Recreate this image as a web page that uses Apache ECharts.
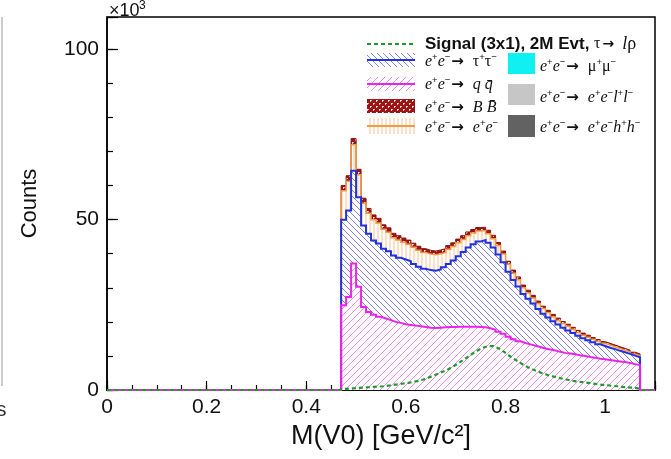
<!DOCTYPE html>
<html><head><meta charset="utf-8">
<script src="https://cdn.jsdelivr.net/npm/echarts@6/dist/echarts.min.js"></script>
<style>html,body{margin:0;padding:0;background:#fff;}#c{width:671px;height:459px;}</style>
</head><body><div id="c"></div>
<script>
// ---- histogram binning (x range of the frame, bin width, first filled bin) ----
const histMin = 0, histMax = 1.1, binWidth = 0.01, firstFilledEdge = 0.47;
// ---- stacked background components, 60 bins from 0.47 to 1.07 (x10^3 counts) ----
const qq = [24.9,27.3,37.1,30.3,24.4,22.9,22.1,21.5,21.0,20.5, 20.0,19.7,19.3,19.1,18.9,18.7,18.5,18.3,18.2,18.3,
            18.4,18.5,18.5,18.6,18.6,18.6,18.6,18.5,18.4,18.1, 17.7,17.1,16.5,15.6,14.9,14.3,13.8,13.4,13.0,12.6,
            12.2,11.9,11.6,11.2,10.9,10.7,10.5,10.2,10.0,9.7, 9.5,9.2,9.0,8.8,8.6,8.4,8.2,7.9,7.6,7.3];
const tautau = [25.1,25.4,27.3,26.3,23.9,23.0,21.8,21.5,20.5,20.2, 19.5,19.1,19.0,18.7,18.1,17.5,17.1,16.9,16.8,17.1,
            17.6,18.5,19.5,20.7,21.9,23.2,24.2,25.1,25.6,25.1, 24.1,22.7,21.0,19.1,17.4,16.1,14.4,13.4,12.4,11.2,
            10.2,9.4,8.6,8.0,7.4,6.8,6.2,5.7,5.2,4.9, 4.5,4.2,3.9,3.6,3.4,3.1,2.9,2.7,2.5,2.3];
const eeBhabha = [8.5,8.6,7.6,6.6,6.5,6.0,6.1,6.0,5.7,5.6, 5.2,5.2,5.1,5.0,4.9,4.8,4.8,4.7,4.7,4.6,
            4.4,4.3,4.1,3.9,3.7,3.5,3.3,3.1,2.8,2.7, 2.6,2.6,2.4,2.2,2.0,2.0,1.8,1.7,1.6,1.6,
            1.5,1.4,1.3,1.2,1.2,1.2,1.1,1.0,0.9,0.9, 0.9,0.9,0.8,0.8,0.7,0.7,0.6,0.6,0.5,0.5];
const bbbar = [1.5,1.6,1.8,1.6,1.5,1.4,1.4,1.4,1.3,1.3, 1.3,1.3,1.2,1.2,1.2,1.2,1.1,1.1,1.1,1.1,
            1.1,1.1,1.1,1.1,1.1,1.1,1.0,1.0,1.0,1.0, 1.0,0.9,0.9,0.9,0.9,0.8,0.8,0.8,0.8,0.7,
            0.7,0.7,0.7,0.7,0.6,0.6,0.6,0.6,0.6,0.6, 0.5,0.5,0.5,0.5,0.5,0.5,0.5,0.5,0.5,0.5];
// ---- signal overlay (not stacked) ----
const signal = [0.3,0.4,0.5,0.6,0.7,0.8,0.9,1.0,1.1,1.3, 1.5,1.7,1.9,2.1,2.4,2.7,3.1,3.6,4.2,4.8,
            5.4,6.1,6.9,7.8,8.8,9.8,10.8,11.7,12.4,12.9, 12.9,12.3,11.4,10.3,9.3,8.4,7.5,6.7,6.0,5.4,
            4.9,4.4,4.0,3.6,3.3,3.0,2.7,2.5,2.3,2.1, 1.9,1.7,1.5,1.4,1.2,1.1,0.9,0.8,0.7,0.5];
// ---- axis ticks ----
const xTicks = [0, 0.2, 0.4, 0.6, 0.8, 1];
const yTicks = [0, 50, 100];
const yMax = 109.5;

// ---------------------------------------------------------------------------
const nBins = Math.round((histMax - histMin) / binWidth);
const offset = Math.round((firstFilledEdge - histMin) / binWidth);
function full(arr) { const f = new Array(nBins).fill(0); arr.forEach((v, i) => f[offset + i] = v); return f; }
function add(a, b) { return a.map((v, i) => +(v + b[i]).toFixed(3)); }
const cQQ = full(qq);
const cTau = add(cQQ, full(tautau));
const cEE = add(cTau, full(eeBhabha));
const cBB = add(cEE, full(bbbar));
function edge(k) { return +(histMin + k * binWidth).toFixed(4); }
function stepData(vals) { return vals.map((v, k) => [edge(k), v]).concat([[histMax, 0]]); }
function centerData(vals) { return [[histMin, 0]].concat(vals.map((v, k) => [+(edge(k) + binWidth / 2).toFixed(4), v])).concat([[histMax, 0]]); }

function hatch(size, color, dir, lw) {
  const c = document.createElement('canvas'); c.width = c.height = size;
  const g = c.getContext('2d'); g.fillStyle = '#fff'; g.fillRect(0, 0, size, size);
  g.strokeStyle = color; g.lineWidth = lw || 1; g.beginPath();
  if (dir === 'bs') { for (const o of [-size, 0, size]) { g.moveTo(o, 0); g.lineTo(o + size, size); } }
  else if (dir === 'fs') { for (const o of [-size, 0, size]) { g.moveTo(o, size); g.lineTo(o + size, 0); } }
  else { g.moveTo(size / 2, 0); g.lineTo(size / 2, size); }
  g.stroke(); return c;
}
function bbTile() {
  const c = document.createElement('canvas'); c.width = c.height = 6;
  const g = c.getContext('2d'); g.fillStyle = '#9a1616'; g.fillRect(0, 0, 6, 6);
  g.fillStyle = '#ffffff'; g.fillRect(1, 1, 1, 1); g.fillRect(4, 4, 1, 1);
  g.fillStyle = '#e8b0b0'; g.fillRect(2, 1, 1, 1); g.fillRect(1, 2, 1, 1); g.fillRect(5, 4, 1, 1); g.fillRect(4, 5, 1, 1);
  return c;
}
const patTau = { image: hatch(6, '#7f7fe6', 'bs', 1), repeat: 'repeat' };
const patQQ = { image: hatch(7, '#ee8cee', 'fs', 1), repeat: 'repeat' };
const patEE = { image: hatch(4, '#f6c38f', 'v', 1), repeat: 'repeat' };
const patBB = { image: bbTile(), repeat: 'repeat' };

const colTau = '#2233dd', colQQ = '#ee22ee', colEE = '#f39a46', colBB = '#8a1010', colSig = '#1f9a2a';

function stepSeries(name, vals, lc, lw, fill) {
  return { type: 'line', name, data: stepData(vals), step: 'end', symbol: 'none', clip: false, silent: true,
    lineStyle: { color: lc, width: lw, join: 'miter' }, areaStyle: { color: fill, opacity: 1, origin: 'start' },
    xAxisIndex: 0, yAxisIndex: 0 };
}

const FS = 'Liberation Sans, Arial, Helvetica, sans-serif';
const SERIF = 'Liberation Serif, Times New Roman, serif';
function fmtX(v) { const t = xTicks.find(t => Math.abs(t - v) < 1e-6); return t === undefined ? '' : String(t); }
function fmtY(v) { const t = yTicks.find(t => Math.abs(t - v) < 1e-6); return t === undefined ? '' : String(t); }

// rich-text styles for the physics labels
const RICH = {
  n: { font: 'italic 16px ' + SERIF, fill: '#111', lineHeight: 20 },
  g: { font: '16px ' + SERIF, fill: '#111', lineHeight: 20 },
  s: { font: '9.5px ' + FS, fill: '#111', lineHeight: 9, verticalAlign: 'top' },
  a: { font: 'bold 15px DejaVu Sans, sans-serif', fill: '#111', lineHeight: 20, padding: [0, 9, 0, 1] },
  b: { font: 'bold 17px ' + FS, fill: '#111', lineHeight: 20 },
  ar: { font: 'bold 14px DejaVu Sans, sans-serif', fill: '#111', lineHeight: 20, padding: [0, 8, 0, 2] },
  i: { font: 'italic 18px ' + SERIF, fill: '#111', lineHeight: 20 },
  r: { font: '18px ' + SERIF, fill: '#111', lineHeight: 20 }
};
const EE = '{n|e}{s|+}{n|e}{s|−}';
const ARROW = '{a|→}';
const L = 367, LW = 48, TX = 425, R = 508, RW = 27, RTX = 540;
const legendText = (x, y, text) => ({ type: 'text', x, y, style: { text, verticalAlign: 'middle', align: 'left', rich: RICH } });
const graphics = [
  // signal
  { type: 'line', shape: { x1: L, y1: 44, x2: L + LW, y2: 44 }, style: { stroke: colSig, lineWidth: 2.2, lineDash: [4, 3] } },
  legendText(TX, 44, '{b|Signal (3x1), 2M Evt, }{g|τ}{ar|→}{i|l}{r|ρ}'),
  // tau
  { type: 'rect', shape: { x: L, y: 53, width: LW, height: 14 }, style: { fill: patTau } },
  { type: 'line', shape: { x1: L, y1: 60, x2: L + LW, y2: 60 }, style: { stroke: colTau, lineWidth: 2 } },
  legendText(TX, 62, EE + ARROW + '{g|τ}{s|+}{g|τ}{s|−}'),
  // qq
  { type: 'rect', shape: { x: L, y: 77, width: LW, height: 14 }, style: { fill: patQQ } },
  { type: 'line', shape: { x1: L, y1: 84, x2: L + LW, y2: 84 }, style: { stroke: colQQ, lineWidth: 2 } },
  legendText(TX, 85, EE + ARROW + '{n|q q̄}'),
  // BB
  { type: 'rect', shape: { x: L, y: 99, width: LW, height: 14 }, style: { fill: patBB } },
  legendText(TX, 108, EE + ARROW + '{n|B B̄}'),
  // ee
  { type: 'rect', shape: { x: L, y: 118, width: LW, height: 16 }, style: { fill: patEE } },
  { type: 'line', shape: { x1: L, y1: 126, x2: L + LW, y2: 126 }, style: { stroke: colEE, lineWidth: 2 } },
  legendText(TX, 128, EE + ARROW + EE),
  // right column
  { type: 'rect', shape: { x: R, y: 53, width: RW, height: 21 }, style: { fill: '#0ff0f0' } },
  legendText(RTX, 67, EE + ARROW + '{g|μ}{s|+}{g|μ}{s|−}'),
  { type: 'rect', shape: { x: R, y: 84, width: RW, height: 21 }, style: { fill: '#c6c6c6' } },
  legendText(RTX, 98, EE + ARROW + EE + '{n|l}{s|+}{n|l}{s|−}'),
  { type: 'rect', shape: { x: R, y: 115, width: RW, height: 22 }, style: { fill: '#626262' } },
  legendText(RTX, 128, EE + ARROW + EE + '{n|h}{s|+}{n|h}{s|−}'),
  // exponent label
  { type: 'text', x: 109, y: 20, style: { text: '×10', font: '18px ' + FS, fill: '#111', verticalAlign: 'bottom', align: 'left' } },
  { type: 'text', x: 139, y: 12, style: { text: '3', font: '12px ' + FS, fill: '#111', verticalAlign: 'bottom', align: 'left' } },
  // neighbour-panel remnants at left edge
  { type: 'line', shape: { x1: 2, y1: 17, x2: 2, y2: 386 }, style: { stroke: '#9a9a9a', lineWidth: 1 } },
  { type: 'text', x: -4, y: 410, style: { text: 's', font: '21px ' + FS, fill: '#333', verticalAlign: 'middle', align: 'left' } }
];

const chart = echarts.init(document.getElementById('c'), null, { renderer: 'canvas' });
chart.setOption({
  animation: false,
  backgroundColor: '#fff',
  grid: { left: 107, right: 16, top: 17, bottom: 69, show: true, borderColor: '#000', borderWidth: 1.5, backgroundColor: 'transparent' },
  xAxis: [
    { type: 'value', min: histMin, max: histMax, interval: 0.2, position: 'bottom',
      axisLine: { show: true, onZero: false, lineStyle: { color: '#000', width: 1.5 } },
      axisTick: { show: true, inside: true, length: 9, lineStyle: { color: '#000', width: 1.2 } },
      axisLabel: { fontSize: 21, color: '#111', fontFamily: FS, margin: 7, formatter: fmtX },
      splitLine: { show: false },
      name: 'M(V0) [GeV/c²]', nameLocation: 'middle', nameGap: 27,
      nameTextStyle: { fontSize: 27, color: '#111', fontFamily: FS } },
    { type: 'value', min: histMin, max: histMax, interval: 0.05, position: 'bottom',
      axisLine: { show: false }, axisTick: { show: true, inside: true, length: 5, lineStyle: { color: '#000', width: 1.2 } },
      axisLabel: { show: false }, splitLine: { show: false } }
  ],
  yAxis: [
    { type: 'value', min: 0, max: yMax, interval: 50, position: 'left',
      axisLine: { show: true, onZero: false, lineStyle: { color: '#000', width: 1.5 } },
      axisTick: { show: true, inside: true, length: 11, lineStyle: { color: '#000', width: 1.2 } },
      axisLabel: { fontSize: 21, color: '#111', fontFamily: FS, margin: 8, formatter: fmtY },
      splitLine: { show: false },
      name: 'Counts', nameLocation: 'middle', nameGap: 66, nameRotate: 90,
      nameTextStyle: { fontSize: 22, color: '#111', fontFamily: FS } },
    { type: 'value', min: 0, max: yMax, interval: 10, position: 'left',
      axisLine: { show: false }, axisTick: { show: true, inside: true, length: 6, lineStyle: { color: '#000', width: 1.2 } },
      axisLabel: { show: false }, splitLine: { show: false } }
  ],
  series: [
    stepSeries('e+e- -> BBbar', cBB, colBB, 1, patBB),
    stepSeries('e+e- -> e+e-', cEE, colEE, 1.5, patEE),
    stepSeries('e+e- -> tau+tau-', cTau, colTau, 2, patTau),
    stepSeries('e+e- -> qqbar', cQQ, colQQ, 2, patQQ),
    { type: 'line', name: 'Signal', data: centerData(full(signal)), symbol: 'none', clip: false, silent: true,
      lineStyle: { color: colSig, width: 2.2, type: [4, 3] }, xAxisIndex: 0, yAxisIndex: 0 }
  ],
  graphic: graphics
});
</script></body></html>
